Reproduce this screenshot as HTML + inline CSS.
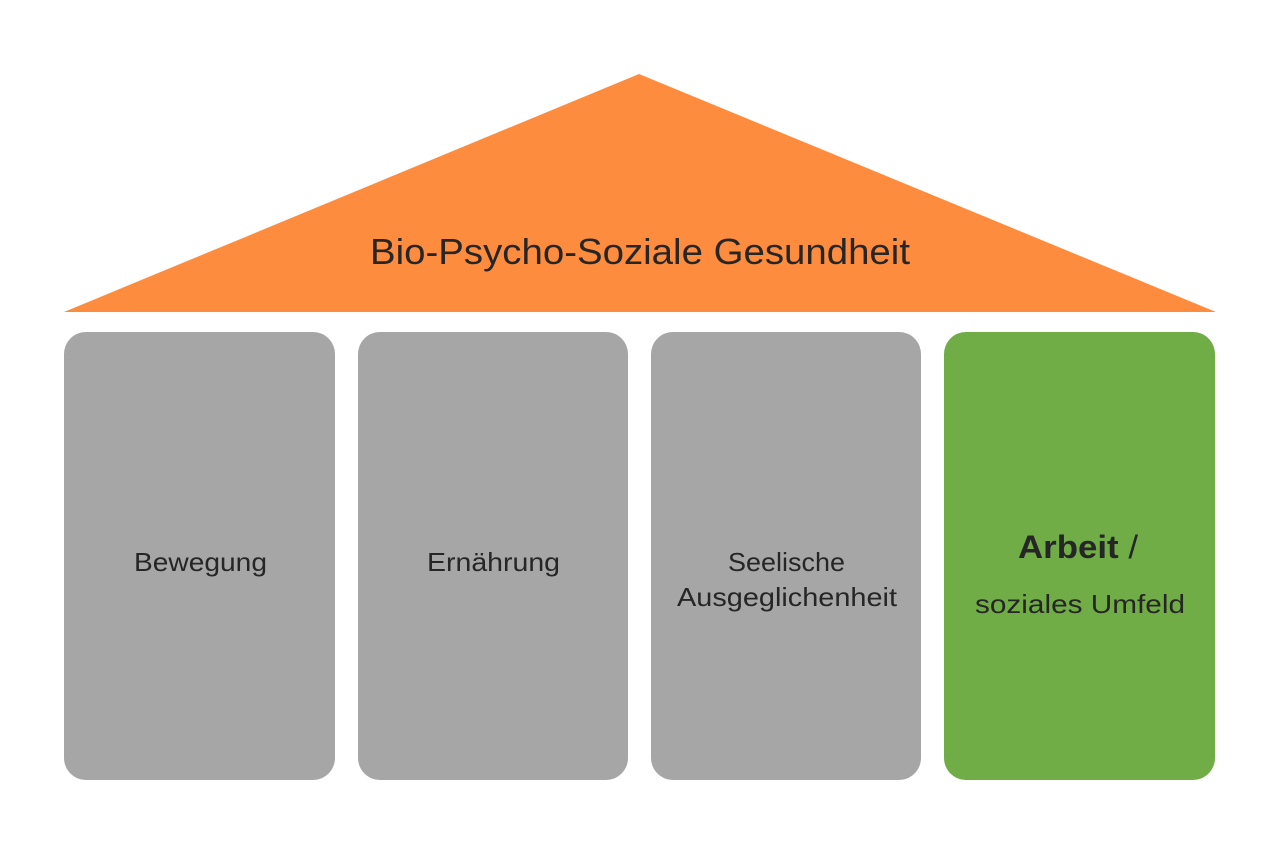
<!DOCTYPE html>
<html><head><meta charset="utf-8"><style>html,body{margin:0;padding:0;background:#fff}svg{display:block}</style></head>
<body>
<svg width="1280" height="854" viewBox="0 0 1280 854" xmlns="http://www.w3.org/2000/svg" font-family="Liberation Sans, sans-serif" fill="#262626">
<rect width="1280" height="854" fill="#fff"/>
<polygon points="639,74 64,312 1216,312" fill="#fd8c3e"/>
<rect x="64" y="332" width="271" height="448" rx="22" fill="#a6a6a6"/>
<rect x="358" y="332" width="270" height="448" rx="22" fill="#a6a6a6"/>
<rect x="651" y="332" width="270" height="448" rx="22" fill="#a6a6a6"/>
<rect x="944" y="332" width="271" height="448" rx="22" fill="#70ad47"/>
<text x="370" y="264" font-size="36" textLength="540" lengthAdjust="spacingAndGlyphs">Bio-Psycho-Soziale Gesundheit</text>
<text x="134" y="571" font-size="26" textLength="133" lengthAdjust="spacingAndGlyphs">Bewegung</text>
<text x="427" y="571" font-size="26" textLength="133" lengthAdjust="spacingAndGlyphs">Ernährung</text>
<text x="728" y="571" font-size="26" textLength="117" lengthAdjust="spacingAndGlyphs">Seelische</text>
<text x="677" y="606" font-size="26" textLength="220" lengthAdjust="spacingAndGlyphs">Ausgeglichenheit</text>
<text x="1018" y="558" font-size="32" textLength="120" lengthAdjust="spacingAndGlyphs"><tspan font-weight="bold">Arbeit</tspan> /</text>
<text x="975" y="613" font-size="26" textLength="210" lengthAdjust="spacingAndGlyphs">soziales Umfeld</text>
</svg>
</body></html>
